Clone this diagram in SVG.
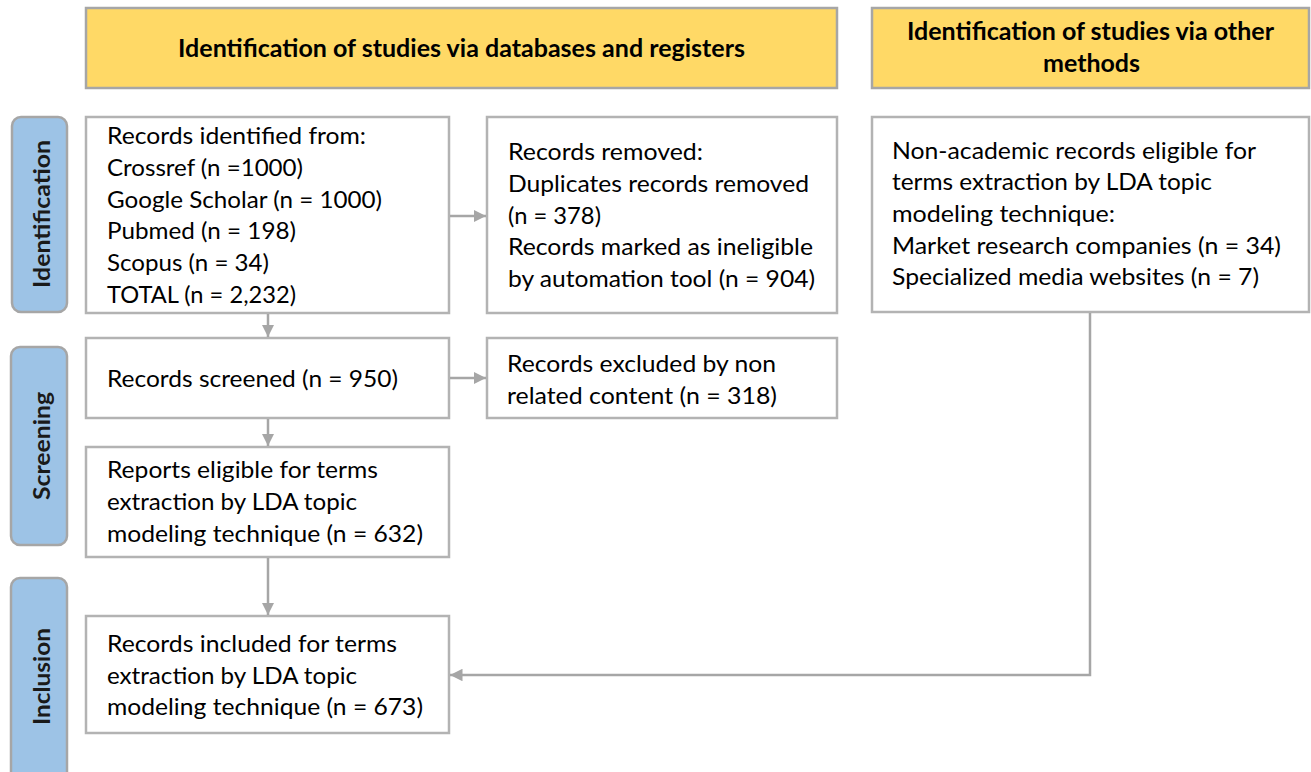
<svg xmlns="http://www.w3.org/2000/svg" width="1311" height="772" viewBox="0 0 1311 772">
<defs>
<style>
.hdr{fill:#FFD966;stroke:#A6A6A6;stroke-width:2.5}
.box{fill:#ffffff;stroke:#B3B3B3;stroke-width:2.5}
.side{fill:#9DC3E6;stroke:#A6A6A6;stroke-width:2.5}
.t{font-family:Lato,"Open Sans","Liberation Sans",sans-serif;font-size:24px;fill:#000}
.h{font-family:Lato,"Open Sans","Liberation Sans",sans-serif;font-size:24px;font-weight:bold;fill:#000}
.s{font-family:Lato,"Open Sans","Liberation Sans",sans-serif;font-size:23px;font-weight:bold;fill:#1a1a1a}
.c{fill:none;stroke:#A6A6A6;stroke-width:2.5}
</style>
<marker id="arr" viewBox="0 0 10 10" refX="10" refY="5" markerWidth="5" markerHeight="5" markerUnits="strokeWidth" orient="auto">
<path d="M0,0 L10,5 L0,10 Z" fill="#A6A6A6"/>
</marker>
</defs>
<rect width="1311" height="772" fill="#ffffff"/>

<g id="header-databases">
<rect class="hdr" x="86" y="8" width="751" height="80"/>
<text class="h" x="461.5" y="57" text-anchor="middle" textLength="567" lengthAdjust="spacingAndGlyphs">Identification of studies via databases and registers</text>
</g>
<g id="header-other">
<rect class="hdr" x="872" y="8" width="437" height="80"/>
<text class="h" x="1090.5" y="40" text-anchor="middle" textLength="367" lengthAdjust="spacingAndGlyphs">Identification of studies via other</text>
<text class="h" x="1091.5" y="72" text-anchor="middle" textLength="97" lengthAdjust="spacingAndGlyphs">methods</text>
</g>

<g id="side-identification">
<rect class="side" x="12" y="117" width="55" height="195" rx="9"/>
<text class="s" transform="translate(49.5,214) rotate(-90)" text-anchor="middle" textLength="148" lengthAdjust="spacingAndGlyphs">Identification</text>
</g>
<g id="side-screening">
<rect class="side" x="11" y="347" width="56" height="198" rx="9"/>
<text class="s" transform="translate(49.5,446) rotate(-90)" text-anchor="middle" textLength="108" lengthAdjust="spacingAndGlyphs">Screening</text>
</g>
<g id="side-inclusion">
<rect class="side" x="11" y="578" width="56" height="210" rx="9"/>
<text class="s" transform="translate(49.5,676.5) rotate(-90)" text-anchor="middle" textLength="97" lengthAdjust="spacingAndGlyphs">Inclusion</text>
</g>

<g id="records-identified">
<rect class="box" x="86" y="117" width="363" height="196"/>
<text class="t" x="107" y="144" textLength="259" lengthAdjust="spacingAndGlyphs">Records identified from:</text>
<text class="t" x="107" y="176" textLength="196" lengthAdjust="spacingAndGlyphs">Crossref (n =1000)</text>
<text class="t" x="107" y="207.5" textLength="275" lengthAdjust="spacingAndGlyphs">Google Scholar (n = 1000)</text>
<text class="t" x="107" y="239" textLength="189" lengthAdjust="spacingAndGlyphs">Pubmed (n = 198)</text>
<text class="t" x="107" y="271" textLength="162" lengthAdjust="spacingAndGlyphs">Scopus (n = 34)</text>
<text class="t" x="107" y="302.5" textLength="189" lengthAdjust="spacingAndGlyphs">TOTAL (n = 2,232)</text>
</g>

<g id="records-removed">
<rect class="box" x="487" y="117" width="350" height="196"/>
<text class="t" x="508" y="160" textLength="195" lengthAdjust="spacingAndGlyphs">Records removed:</text>
<text class="t" x="508" y="192" textLength="301" lengthAdjust="spacingAndGlyphs">Duplicates records removed</text>
<text class="t" x="508" y="223.5" textLength="93" lengthAdjust="spacingAndGlyphs">(n = 378)</text>
<text class="t" x="508" y="255" textLength="305" lengthAdjust="spacingAndGlyphs">Records marked as ineligible</text>
<text class="t" x="508" y="286.5" textLength="307" lengthAdjust="spacingAndGlyphs">by automation tool (n = 904)</text>
</g>

<g id="non-academic">
<rect class="box" x="872" y="117" width="437" height="195"/>
<text class="t" x="892" y="158.5" textLength="364" lengthAdjust="spacingAndGlyphs">Non-academic records eligible for</text>
<text class="t" x="892" y="190" textLength="320" lengthAdjust="spacingAndGlyphs">terms extraction by LDA topic</text>
<text class="t" x="892" y="222" textLength="223" lengthAdjust="spacingAndGlyphs">modeling technique:</text>
<text class="t" x="892" y="253.5" textLength="389" lengthAdjust="spacingAndGlyphs">Market research companies (n = 34)</text>
<text class="t" x="892" y="285" textLength="367" lengthAdjust="spacingAndGlyphs">Specialized media websites (n = 7)</text>
</g>

<g id="records-screened">
<rect class="box" x="86" y="338" width="363" height="80"/>
<text class="t" x="107" y="387" textLength="291" lengthAdjust="spacingAndGlyphs">Records screened (n = 950)</text>
</g>

<g id="records-excluded">
<rect class="box" x="487" y="338" width="350" height="80"/>
<text class="t" x="507" y="372" textLength="269" lengthAdjust="spacingAndGlyphs">Records excluded by non</text>
<text class="t" x="507" y="403.5" textLength="270" lengthAdjust="spacingAndGlyphs">related content (n = 318)</text>
</g>

<g id="reports-eligible">
<rect class="box" x="86" y="447" width="363" height="110"/>
<text class="t" x="107" y="478" textLength="271" lengthAdjust="spacingAndGlyphs">Reports eligible for terms</text>
<text class="t" x="107" y="510" textLength="250" lengthAdjust="spacingAndGlyphs">extraction by LDA topic</text>
<text class="t" x="107" y="541.5" textLength="316" lengthAdjust="spacingAndGlyphs">modeling technique (n = 632)</text>
</g>

<g id="records-included">
<rect class="box" x="86" y="616" width="363" height="117"/>
<text class="t" x="107" y="652" textLength="290" lengthAdjust="spacingAndGlyphs">Records included for terms</text>
<text class="t" x="107" y="683.5" textLength="250" lengthAdjust="spacingAndGlyphs">extraction by LDA topic</text>
<text class="t" x="107" y="715" textLength="316" lengthAdjust="spacingAndGlyphs">modeling technique (n = 673)</text>
</g>

<g id="connectors">
<line class="c" x1="268" y1="314" x2="268" y2="337" marker-end="url(#arr)"/>
<line class="c" x1="450" y1="216" x2="486" y2="216" marker-end="url(#arr)"/>
<line class="c" x1="450" y1="378" x2="486" y2="378" marker-end="url(#arr)"/>
<line class="c" x1="268" y1="419" x2="268" y2="446" marker-end="url(#arr)"/>
<line class="c" x1="268" y1="558" x2="268" y2="615" marker-end="url(#arr)"/>
<polyline class="c" points="1090,313 1090,675 450,675" marker-end="url(#arr)"/>
</g>
</svg>
